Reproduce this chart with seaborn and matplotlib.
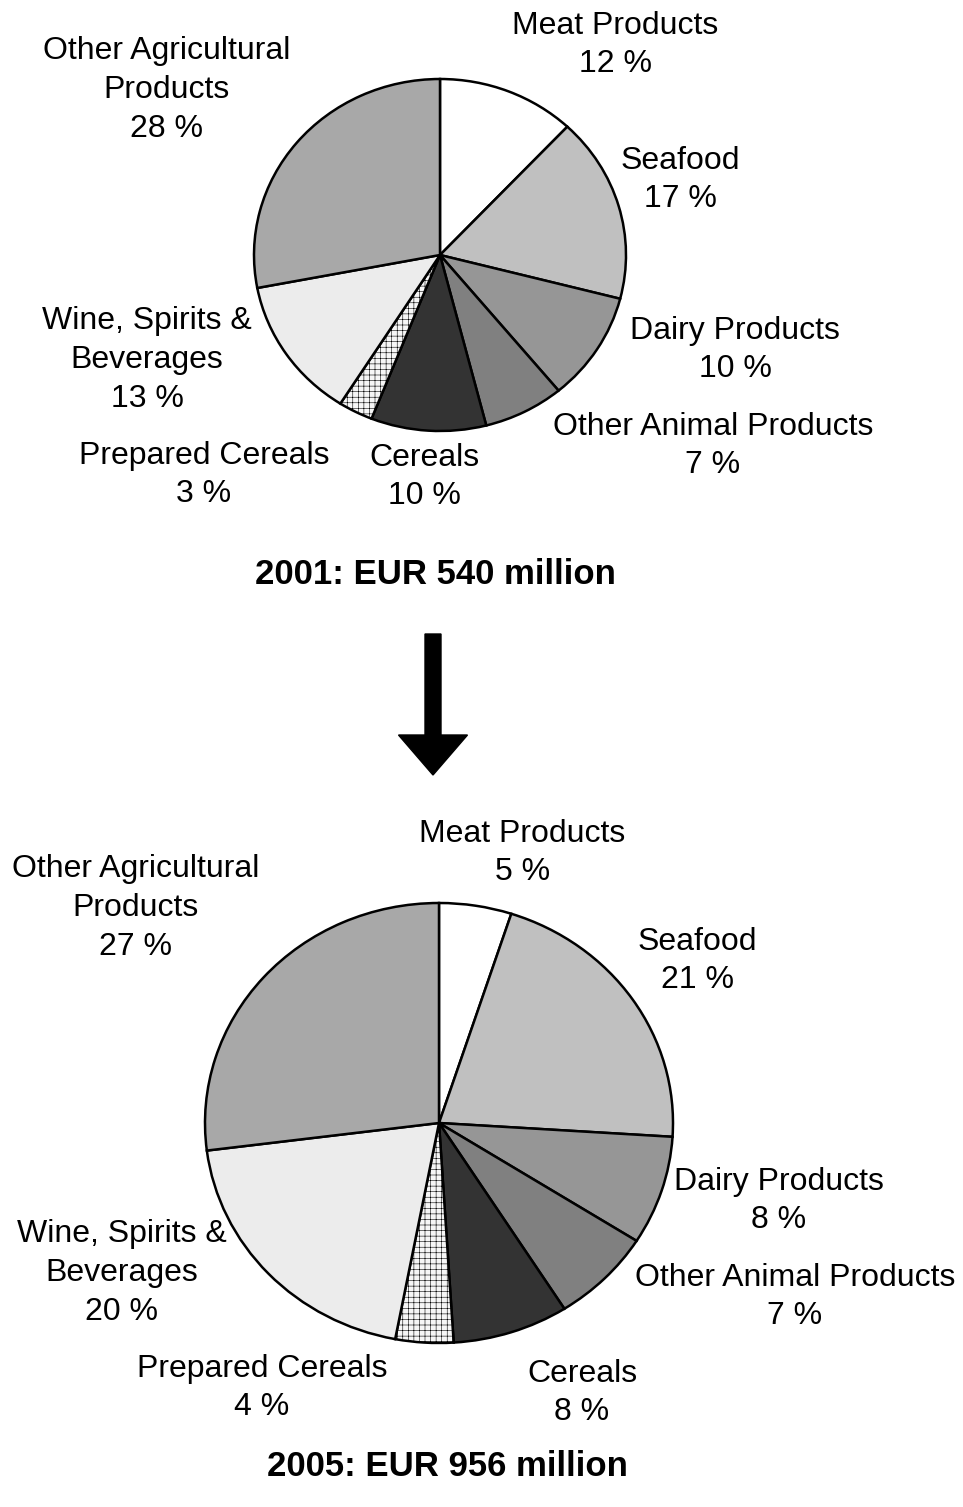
import numpy as np
import seaborn as sns
import matplotlib.pyplot as plt
from matplotlib.patches import FancyArrow

# %% Data
categories = ['Meat Products', 'Seafood', 'Dairy Products', 'Other Animal Products',
              'Cereals', 'Prepared Cereals', 'Wine, Spirits &\nBeverages',
              'Other Agricultural\nProducts']
shares_2001 = [12, 17, 10, 7, 10, 3, 13, 28]
shares_2005 = [5, 21, 8, 7, 8, 4, 20, 27]
title_2001 = '2001: EUR 540 million'
title_2005 = '2005: EUR 956 million'

# %% Style
sns.set_theme(style='white')
plt.rcParams['font.family'] = ['Liberation Sans', 'DejaVu Sans']
plt.rcParams['hatch.linewidth'] = 0.4

colors = ['#ffffff', '#c0c0c0', '#969696', '#808080',
          '#333333', '#f6f6f6', '#ececec', '#a8a8a8']

# label centres, in pie units (x per rx, y per ry)
label_pos_2001 = [(0.941, 1.193), (1.290, 0.426), (1.586, -0.540), (1.468, -1.085),
                  (-0.081, -1.261), (-1.269, -1.250), (-1.575, -0.597), (-1.468, 0.938)]
label_pos_2005 = [(0.355, 1.227), (1.103, 0.736), (1.453, -0.355), (1.521, -0.791),
                  (0.611, -1.227), (-0.756, -1.205), (-1.355, -0.682), (-1.295, 0.977)]

W, H = 963, 1507
fig = plt.figure(figsize=(W / 100, H / 100), dpi=100)


def draw_pie(rect, xlim, ylim, shares, label_pos, title, title_xy):
    ax = fig.add_axes(rect)
    wedges, _ = ax.pie(shares, colors=colors, startangle=90, counterclock=False,
                       wedgeprops=dict(edgecolor='black', linewidth=1.8))
    # prepared cereals gets the fine grid texture
    wedges[5].set_hatch('+++')
    ax.set_aspect('auto')
    ax.set_xlim(*xlim)
    ax.set_ylim(*ylim)
    ax.axis('off')
    for name, val, (x, y) in zip(categories, shares, label_pos):
        ax.text(x, y, f'{name}\n{val} %', ha='center', va='center',
                fontsize=23, linespacing=1.38, color='black')
    ax.text(*title_xy, title, ha='center', va='center', fontsize=25,
            fontweight='bold', color='black')
    return ax


# top pie: centre (440, 255) px, rx 186, ry 176
draw_pie([0, 1 - 540 / H, 1, 540 / H], (-440 / 186, 523 / 186),
         (-285 / 176, 255 / 176), shares_2001, label_pos_2001, title_2001,
         (-5 / 186, (255 - 575) / 176))

# bottom pie: centre (439, 1123) px, rx 234, ry 220
draw_pie([0, 0, 1, (H - 790) / H], (-439 / 234, 524 / 234),
         ((1123 - H) / 220, (1123 - 790) / 220), shares_2005, label_pos_2005,
         title_2005, (8 / 234, (1123 - 1466) / 220))

# arrow between the two pies
ax_bg = fig.add_axes([0, 0, 1, 1], zorder=-1)
ax_bg.set_xlim(0, W)
ax_bg.set_ylim(H, 0)
ax_bg.axis('off')
ax_bg.add_patch(FancyArrow(433, 634, 0, 141, width=16, head_width=69,
                           head_length=40, length_includes_head=True,
                           color='black'))

fig.savefig('out.png', dpi=100)
